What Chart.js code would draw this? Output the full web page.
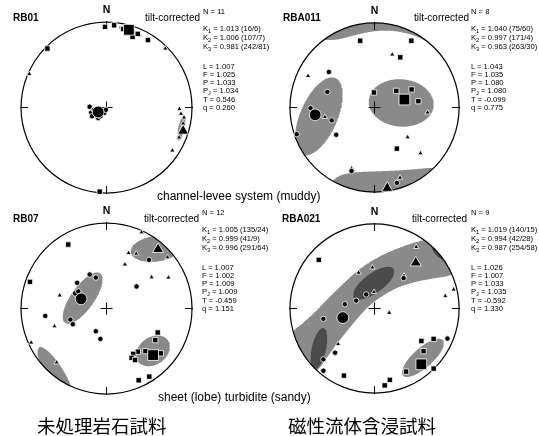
<!DOCTYPE html>
<html>
<head>
<meta charset="utf-8">
<script src="https://cdn.jsdelivr.net/npm/chart.js@4.4.1/dist/chart.umd.min.js"></script>
<style>
  html, body { margin: 0; padding: 0; background: #fff; }
  #fig { position: relative; width: 539px; height: 436px; overflow: hidden;
         font-family: "Liberation Sans", Arial, sans-serif; color: #000; }
  #fig canvas { position: absolute; }
  .t { position: absolute; white-space: nowrap; line-height: 1; transform: translateY(-50%); }
  .id { font-weight: bold; font-size: 10px; }
  .tc { font-size: 10px; transform: translate(-100%, -50%); }
  .st { font-size: 7.6px; }
  .st sub { font-size: 5.6px; vertical-align: -1.6px; line-height: 0; }
  .nl { font-weight: bold; font-size: 10.5px; transform: translate(-50%, -50%); }
  .grp { font-size: 12px; }
  .jp { font-family: "Noto Sans CJK JP", sans-serif; font-size: 18.5px; }
</style>
</head>
<body>
<div id="fig"></div>
<script>
// ---- AMS summary per site: RB01, RBA011 (top row), RB07, RBA021 (bottom row) ----
const netIds = ['RB01', 'RBA011', 'RB07', 'RBA021'];
const sampleCounts = [11, 8, 12, 9];
const k1Mag = [1.013, 1.040, 1.005, 1.019];
const k2Mag = [1.006, 0.997, 0.999, 0.994];
const k3Mag = [0.981, 0.963, 0.996, 0.987];
const k1Dir = [[16, 6], [75, 60], [135, 24], [140, 15]];     // declination / inclination
const k2Dir = [[107, 7], [171, 4], [41, 9], [42, 28]];
const k3Dir = [[242, 81], [263, 30], [291, 64], [254, 58]];
const paramL = [1.007, 1.043, 1.007, 1.026];
const paramF = [1.025, 1.035, 1.002, 1.007];
const paramP = [1.033, 1.080, 1.009, 1.033];
const paramPj = [1.034, 1.080, 1.009, 1.035];
const paramT = [0.546, -0.099, -0.459, -0.592];
const paramQ = [0.260, 0.775, 1.151, 1.330];

// Specimen axes, equal-area lower hemisphere, unit-radius net coordinates [east, north]
const rb01Max = [[-0.018, 0.944], [0.089, 0.962], [0.197, 0.919], [0.261, 0.887], [0.304, 0.826],
                 [0.366, 0.862], [0.484, 0.790], [-0.692, 0.690], [-0.080, -0.984]];
const rb01Int = [[0.688, 0.690], [-0.903, 0.392], [0.853, -0.016], [0.871, -0.073], [0.906, -0.116],
                 [0.896, -0.188], [0.885, -0.247], [0.860, -0.314], [0.849, -0.349], [0.770, -0.503]];
const rb01Min = [[-0.198, 0.009], [-0.180, -0.059], [-0.147, -0.027], [-0.097, -0.124], [-0.026, -0.062],
                 [-0.008, -0.027], [-0.072, -0.102], [-0.169, -0.102]];

const rba011Max = [[-0.170, 0.790], [0.435, 0.790], [0.304, 0.594], [-0.007, 0.178], [0.257, 0.196],
                   [0.438, 0.214], [0.518, 0.076], [0.264, -0.486]];
const rba011Int = [[0.210, 0.627], [-0.786, 0.373], [-0.587, -0.112], [0.627, -0.058], [0.391, -0.351],
                   [0.543, -0.540], [-0.272, -0.721], [0.301, -0.830]];
const rba011Min = [[-0.540, 0.420], [-0.558, 0.185], [-0.757, -0.007], [-0.507, -0.152], [-0.453, -0.322],
                   [-0.920, -0.315], [-0.272, -0.750], [0.264, -0.891]];

const rb07Max = [[-0.448, 0.749], [-0.896, 0.312], [0.599, -0.280], [0.570, -0.369], [0.366, -0.505],
                 [0.312, -0.530], [0.294, -0.577], [0.333, -0.602], [0.634, -0.524], [0.455, -0.498],
                 [0.376, -0.839], [0.500, -0.796]];
const rb07Int = [[0.409, 0.892], [0.258, 0.649], [0.348, 0.642], [0.713, 0.599], [0.215, 0.516],
                 [0.527, 0.366], [0.724, 0.362], [-0.548, 0.154], [-0.609, -0.208], [-0.882, -0.398],
                 [-0.584, -0.631]];
const rb07Min = [[0.498, 0.570], [-0.197, 0.398], [-0.125, 0.362], [-0.344, 0.301], [-0.369, 0.176],
                 [-0.330, 0.200], [0.351, 0.258], [-0.717, -0.086], [-0.423, -0.129], [-0.394, -0.183],
                 [-0.125, -0.265], [-0.072, -0.355]];

const rba021Max = [[-0.659, 0.576], [0.554, -0.384], [0.699, -0.359], [0.580, -0.504], [0.373, -0.746],
                   [0.699, -0.710], [-0.362, -0.793], [0.181, -0.844], [0.120, -0.909]];
const rba021Int = [[0.493, 0.728], [-0.188, 0.424], [-0.025, 0.486], [0.348, 0.388], [-0.007, 0.196],
                   [0.935, 0.225], [0.837, 0.149], [0.174, -0.051], [-0.431, -0.420]];
const rba021Min = [[0.344, 0.359], [-0.098, 0.167], [-0.217, 0.094], [-0.351, 0.051], [-0.605, -0.123],
                   [0.862, -0.355], [-0.467, -0.522], [-0.605, -0.601], [-0.605, -0.736]];

// Confidence regions: ellipses [centreX, centreY, semiMajor, semiMinor, rotationDeg] and outlines
const rb01Ellipses = [[0.277, 0.890, 0.145, 0.032, -21.8], [0.874, -0.242, 0.147, 0.038, 77.4]];
const rb01Outlines = [];
const rba011Ellipses = [[0.315, 0.054, 0.385, 0.28, -5], [-0.66, -0.105, 0.495, 0.22, 66.3]];
const rba011Outlines = [
  [[-0.602, 0.799], [-0.46, 0.797], [-0.304, 0.836], [-0.155, 0.876], [0, 0.905], [0.192, 0.912],
   [0.380, 0.880], [0.530, 0.830], [0.640, 0.768], [0.85, 0.85], [0, 1.25], [-0.85, 0.85]],
  [[-0.5, -0.87], [-0.424, -0.804], [-0.261, -0.766], [0, -0.755], [0.283, -0.745], [0.554, -0.723],
   [0.717, -0.707], [0.9, -0.9], [0, -1.25], [-0.7, -1.0]]
];
const rb07Ellipses = [[-0.28, 0.122, 0.355, 0.135, 54.6], [0.58, 0.70, 0.30, 0.15, 8],
                      [-0.60, -0.76, 0.36, 0.10, -58], [0.543, -0.495, 0.215, 0.16, 35]];
const rb07Outlines = [];
const rba021Ellipses = [[-0.01, 0.30, 0.29, 0.115, 36], [-0.659, -0.475, 0.25, 0.085, 77],
                        [0.78, 0.68, 0.13, 0.07, -46], [0.572, -0.583, 0.315, 0.115, 41.5]];
const rba021Outlines = [
  [[-1.05, -0.33], [-0.768, -0.11], [-0.551, 0.12], [-0.37, 0.295], [-0.188, 0.465], [0.065, 0.625],
   [0.319, 0.731], [0.536, 0.800], [0.75, 0.85], [1.0, 0.70], [1.0, 0.40], [0.609, 0.345],
   [0.319, 0.272], [0.12, 0.170], [-0.08, 0.025], [-0.297, -0.228], [-0.496, -0.482], [-0.72, -0.81],
   [-1.0, -0.75]]
];

const groupLabels = ['channel-levee system (muddy)', 'sheet (lobe) turbidite (sandy)'];
const columnLabels = ['未処理岩石試料', '磁性流体含浸試料'];

// ---- layout ----
const netCenters = [[106.5, 107.5], [374.5, 107.5], [106.5, 308.5], [374.5, 308.5]];
const netRadii = [93, 92, 93, 92];
const titleLeft = [13, 283, 13, 282];
const statLeft = [203, 471, 202, 471];
const tiltRight = [200, 469, 199, 467];
const CANVAS = 208;
const CONE_FILL = 'rgba(0,0,0,0.46)';

const samples = [
  [rb01Max, rb01Int, rb01Min], [rba011Max, rba011Int, rba011Min],
  [rb07Max, rb07Int, rb07Min], [rba021Max, rba021Int, rba021Min]
];
const ellipses = [rb01Ellipses, rba011Ellipses, rb07Ellipses, rba021Ellipses];
const outlines = [rb01Outlines, rba011Outlines, rb07Outlines, rba021Outlines];

const DEG = Math.PI / 180;

// Lambert equal-area (Schmidt) projection of a downward axis onto the unit net
function equalArea(dec, inc) {
  const r = Math.SQRT2 * Math.sin((90 - inc) * DEG / 2);
  return { x: r * Math.sin(dec * DEG), y: r * Math.cos(dec * DEG) };
}

function ellipseOutline([cx, cy, a, b, rot]) {
  const c = Math.cos(rot * DEG), s = Math.sin(rot * DEG), pts = [];
  for (let i = 0; i < 160; i++) {
    const t = i / 160 * 2 * Math.PI, ex = a * Math.cos(t), ey = b * Math.sin(t);
    pts.push([cx + ex * c - ey * s, cy + ex * s + ey * c]);
  }
  return pts;
}

// Chaikin corner cutting on a closed outline
function smoothClosed(pts, passes) {
  let p = pts;
  for (let k = 0; k < passes; k++) {
    const q = [];
    for (let i = 0; i < p.length; i++) {
      const a = p[i], b = p[(i + 1) % p.length];
      q.push([0.75 * a[0] + 0.25 * b[0], 0.75 * a[1] + 0.25 * b[1]]);
      q.push([0.25 * a[0] + 0.75 * b[0], 0.25 * a[1] + 0.75 * b[1]]);
    }
    p = q;
  }
  return p;
}

// Subdivide long edges, keep everything inside the primitive circle, and close the ring
function clipToNet(pts) {
  const out = [];
  for (let i = 0; i < pts.length; i++) {
    const a = pts[i], b = pts[(i + 1) % pts.length];
    const n = Math.max(1, Math.ceil(Math.hypot(b[0] - a[0], b[1] - a[1]) / 0.015));
    for (let j = 0; j < n; j++) {
      const x = a[0] + (b[0] - a[0]) * j / n, y = a[1] + (b[1] - a[1]) * j / n;
      const r = Math.hypot(x, y);
      out.push(r > 1 ? { x: x / r, y: y / r } : { x, y });
    }
  }
  out.push(out[0]);
  return out;
}

const toXY = arr => arr.map(([x, y]) => ({ x, y }));

// Primitive circle, cardinal ticks and centre cross
const netFrame = {
  id: 'netFrame',
  beforeDatasetsDraw(chart) {
    const { ctx, scales: { x, y } } = chart;
    const cx = x.getPixelForValue(0), cy = y.getPixelForValue(0);
    const R = x.getPixelForValue(1) - cx;
    ctx.save();
    ctx.strokeStyle = '#000';
    ctx.lineWidth = 1.2;
    ctx.beginPath();
    ctx.arc(cx, cy, R, 0, 2 * Math.PI);
    ctx.stroke();
    ctx.lineWidth = 1;
    ctx.beginPath();
    const tin = 7, tout = 1;
    ctx.moveTo(cx, cy - R - tout); ctx.lineTo(cx, cy - R + tin);
    ctx.moveTo(cx, cy + R + tout); ctx.lineTo(cx, cy + R - tin);
    ctx.moveTo(cx - R - tout, cy); ctx.lineTo(cx - R + tin, cy);
    ctx.moveTo(cx + R + tout, cy); ctx.lineTo(cx + R - tin, cy);
    ctx.moveTo(cx - 6, cy); ctx.lineTo(cx + 6, cy);
    ctx.moveTo(cx, cy - 6); ctx.lineTo(cx, cy + 6);
    ctx.stroke();
    ctx.restore();
  }
};

const fig = document.getElementById('fig');

function addText(cls, html, left, top) {
  const d = document.createElement('div');
  d.className = 't ' + cls;
  d.innerHTML = html;
  d.style.left = left + 'px';
  d.style.top = top + 'px';
  fig.appendChild(d);
  return d;
}

function pointSet(data, style, radius, order) {
  return {
    type: 'scatter', data, order,
    pointStyle: style, pointRadius: radius, pointHoverRadius: radius,
    pointBackgroundColor: '#000', pointBorderColor: '#fff', pointBorderWidth: 0.8
  };
}

netIds.forEach((id, i) => {
  const [cx, cy] = netCenters[i];
  const R = netRadii[i];
  const left = Math.round(cx - CANVAS / 2), top = Math.round(cy - CANVAS / 2);
  const canvas = document.createElement('canvas');
  canvas.width = CANVAS; canvas.height = CANVAS;
  canvas.style.left = left + 'px'; canvas.style.top = top + 'px';
  canvas.style.width = CANVAS + 'px'; canvas.style.height = CANVAS + 'px';
  fig.appendChild(canvas);

  const cones = ellipses[i].map(ellipseOutline)
    .concat(outlines[i].map(o => smoothClosed(o, 3)))
    .map(clipToNet);

  const datasets = cones.map(poly => ({
    type: 'line', data: poly, fill: 'shape', backgroundColor: CONE_FILL,
    borderColor: 'rgba(0,0,0,0)', borderWidth: 0, pointRadius: 0, tension: 0, order: 5
  }));
  const [maxAx, intAx, minAx] = samples[i];
  datasets.push(pointSet(toXY(minAx), 'circle', 2.7, 3));
  datasets.push(pointSet(toXY(intAx), 'triangle', 3.0, 3));
  datasets.push(pointSet(toXY(maxAx), 'rect', 3.8, 3));
  datasets.push(pointSet([equalArea(...k3Dir[i])], 'circle', 5.9, 1));
  datasets.push(pointSet([equalArea(...k2Dir[i])], 'triangle', 6.4, 1));
  datasets.push(pointSet([equalArea(...k1Dir[i])], 'rect', 7.6, 1));

  const ox = cx - left, oy = cy - top;
  new Chart(canvas, {
    type: 'scatter',
    data: { datasets },
    options: {
      responsive: false, animation: false, devicePixelRatio: 1,
      layout: { padding: 0 },
      events: [],
      plugins: { legend: { display: false }, tooltip: { enabled: false } },
      scales: {
        x: { type: 'linear', display: false, min: -ox / R, max: (CANVAS - ox) / R },
        y: { type: 'linear', display: false, min: -(CANVAS - oy) / R, max: oy / R }
      }
    },
    plugins: [netFrame]
  });

  // labels around the net
  addText('id', id, titleLeft[i], cy - 89.5);
  addText('tc', 'tilt-corrected', tiltRight[i], cy - 89.5);
  addText('nl', 'N', cx, cy - R - 6);

  const dir = d => `(${d[0]}/${d[1]})`;
  const stats = [
    [`N = ${sampleCounts[i]}`, -96],
    [`K<sub>1</sub> = ${k1Mag[i].toFixed(3)} ${dir(k1Dir[i])}`, -79],
    [`K<sub>2</sub> = ${k2Mag[i].toFixed(3)} ${dir(k2Dir[i])}`, -70],
    [`K<sub>3</sub> = ${k3Mag[i].toFixed(3)} ${dir(k3Dir[i])}`, -61],
    [`L = ${paramL[i].toFixed(3)}`, -41],
    [`F = ${paramF[i].toFixed(3)}`, -33],
    [`P = ${paramP[i].toFixed(3)}`, -25],
    [`P<sub>J</sub> = ${paramPj[i].toFixed(3)}`, -16.5],
    [`T = ${paramT[i].toFixed(3)}`, -8],
    [`q = ${paramQ[i].toFixed(3)}`, 0]
  ];
  stats.forEach(([txt, dy]) => addText('st', txt, statLeft[i], cy + dy));
});

addText('grp', groupLabels[0], 157, 196);
addText('grp', groupLabels[1], 158, 397);
addText('jp', columnLabels[0], 37, 425);
addText('jp', columnLabels[1], 288, 425);
</script>
</body>
</html>
